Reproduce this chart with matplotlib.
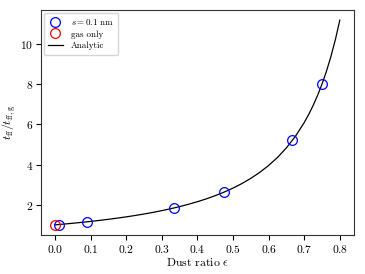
import matplotlib
matplotlib.use("Agg")
import matplotlib.pyplot as plt

plt.rcParams["font.family"] = "serif"
plt.rcParams["font.serif"] = ["cmr10"]
plt.rcParams["mathtext.fontset"] = "cm"
plt.rcParams["axes.formatter.use_mathtext"] = True

# simulation points, s = 0.1 nm
eps_dust = [0.01, 0.09, 0.333, 0.474, 0.667, 0.75]
t_dust = [1.015, 1.15, 1.84, 2.62, 5.2, 8.0]

# gas only
eps_gas = [0.0]
t_gas = [1.0]

# analytic curve
eps_curve = [0.0, 0.025, 0.05, 0.075, 0.10, 0.125, 0.15, 0.175, 0.20, 0.225,
             0.25, 0.275, 0.30, 0.325, 0.35, 0.375, 0.40, 0.425, 0.45, 0.475,
             0.50, 0.525, 0.55, 0.575, 0.60, 0.625, 0.65, 0.675, 0.70,
             0.7125, 0.725, 0.7375, 0.75, 0.7625, 0.775, 0.7875, 0.80]
t_curve = [1.0, 1.039, 1.08, 1.124, 1.171, 1.222, 1.276, 1.335, 1.398, 1.466,
           1.540, 1.620, 1.708, 1.803, 1.908, 2.024, 2.152, 2.293, 2.452, 2.629,
           2.828, 3.055, 3.313, 3.609, 3.953, 4.355, 4.830, 5.397, 6.086,
           6.487, 6.934, 7.436, 8.0, 8.640, 9.370, 10.208, 11.18]

fig = plt.figure(figsize=(3.65, 2.74), dpi=100)
ax = fig.add_subplot(1, 1, 1)
fig.subplots_adjust(left=0.112, right=0.970, top=0.964, bottom=0.142)

ax.plot(eps_dust, t_dust, "o", mfc="none", mec="blue", ms=7, mew=0.9,
        label=r"$s = 0.1$ nm", zorder=3)
ax.plot(eps_gas, t_gas, "o", mfc="none", mec="red", ms=7, mew=0.9,
        label="gas only", zorder=3)
ax.plot(eps_curve, t_curve, "k-", lw=0.9, label="Analytic")

ax.set_xlabel(r"Dust ratio $\epsilon$", fontsize=8.5, labelpad=1)
ax.set_ylabel(r"$t_{\rm ff}/t_{\rm ff,g}$", fontsize=8.5, labelpad=2)
ax.set_yticks([2, 4, 6, 8, 10])
ax.tick_params(labelsize=8.3, length=3.5, width=0.8, pad=2)
for sp in ax.spines.values():
    sp.set_linewidth(0.8)
    sp.set_color("#333333")

ax.legend(loc="upper left", fontsize=6.5, handlelength=1.6,
          borderpad=0.5, labelspacing=0.35, handletextpad=0.9,
          borderaxespad=0.3)

fig.savefig("out.png", dpi=100)
